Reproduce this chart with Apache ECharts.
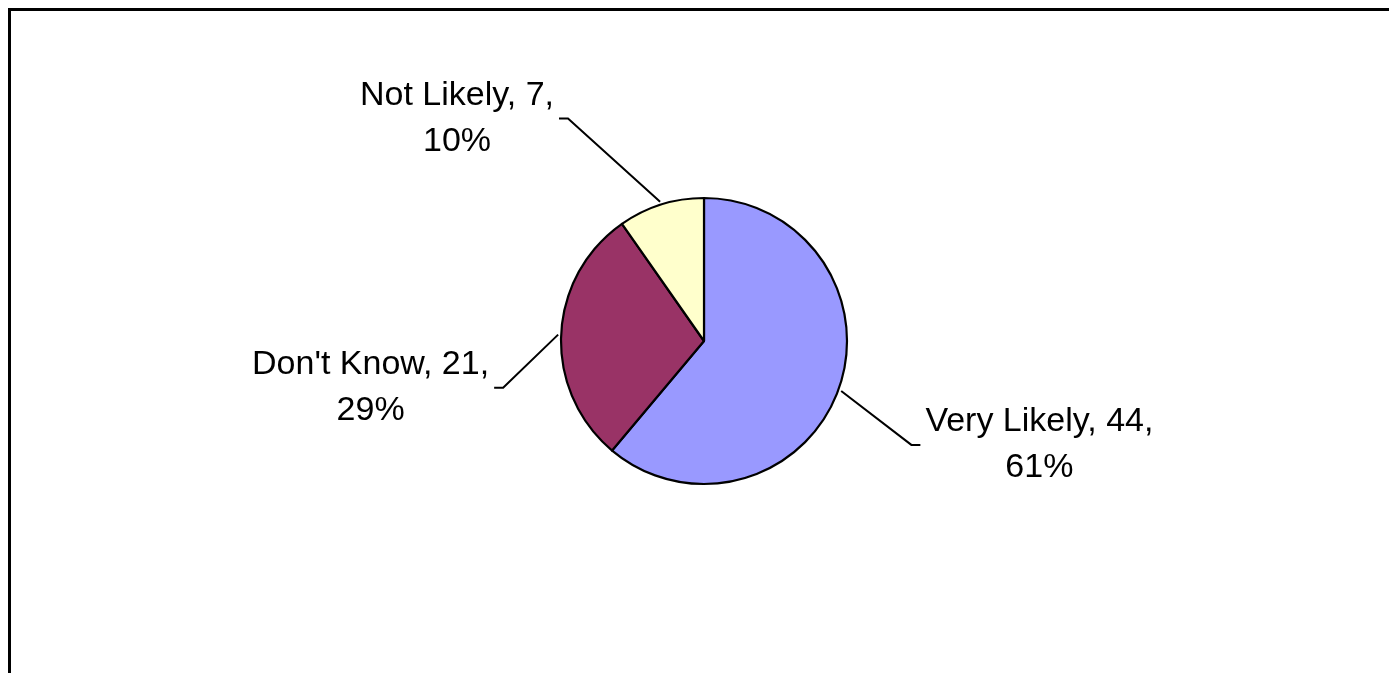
<!DOCTYPE html>
<html>
<head>
<meta charset="utf-8">
<title>Likelihood</title>
<script src="https://cdn.jsdelivr.net/npm/echarts@6/dist/echarts.min.js"></script>
<style>
  html, body { margin: 0; padding: 0; background: #ffffff; }
  #chart { width: 1389px; height: 673px; }
</style>
</head>
<body>
<div id="chart"></div>
<script>
// Survey answers
const categories = ['Very Likely', "Don't Know", 'Not Likely'];
const counts = [44, 21, 7];
const sliceColors = ['#9999FF', '#993366', '#FFFFCC'];

// Pie geometry (pixels)
const CX = 704, CY = 341, R = 143;
// Leader line: elbow offset from the slice's mid-edge point, then a short horizontal tail
const leaderOffsets = [[73, 55], [-58, 53], [-93, -86]];
const TAIL = 9, GAP = 5, LEAD_START = 3;

const total = counts.reduce((a, b) => a + b, 0);
function midEdge(i, r) {
  let cum = 0;
  for (let k = 0; k < i; k++) cum += counts[k];
  const t = (cum + counts[i] / 2) / total * Math.PI * 2;
  return [CX + r * Math.sin(t), CY - r * Math.cos(t)];
}

const chart = echarts.init(document.getElementById('chart'), null, { renderer: 'canvas' });

chart.setOption({
  animation: false,
  backgroundColor: '#ffffff',
  graphic: [{
    type: 'rect',
    shape: { x: 9.5, y: 9.5, width: 2000, height: 2000 },
    style: { fill: 'none', stroke: '#000000', lineWidth: 3 },
    silent: true
  }],
  series: [{
    type: 'pie',
    center: [CX, CY],
    radius: R,
    startAngle: 90,
    clockwise: true,
    percentPrecision: 0,
    avoidLabelOverlap: false,
    data: categories.map((name, i) => ({
      name: name,
      value: counts[i],
      itemStyle: { color: sliceColors[i] }
    })),
    itemStyle: { borderColor: '#000000', borderWidth: 2.2 },
    label: {
      show: true,
      position: 'outside',
      formatter: '{b}, {c},\n{d}%',
      fontFamily: '"Liberation Sans", Arial, sans-serif',
      fontSize: 34,
      lineHeight: 46,
      color: '#000000'
    },
    labelLine: {
      show: true,
      length: 20,
      length2: 10,
      lineStyle: { color: '#000000', width: 2 }
    },
    labelLayout: function (params) {
      const i = params.dataIndex;
      const base = midEdge(i, R);
      const edge = midEdge(i, R + LEAD_START);
      const off = leaderOffsets[i];
      const dir = off[0] >= 0 ? 1 : -1;
      const elbow = [base[0] + off[0], base[1] + off[1]];
      const end = [elbow[0] + dir * TAIL, elbow[1]];
      const w = params.labelRect.width;
      return {
        x: end[0] + dir * (GAP + w / 2),
        y: end[1],
        align: 'center',
        verticalAlign: 'middle',
        labelLinePoints: [edge, elbow, end]
      };
    },
    emphasis: { disabled: true }
  }]
});
</script>
</body>
</html>
